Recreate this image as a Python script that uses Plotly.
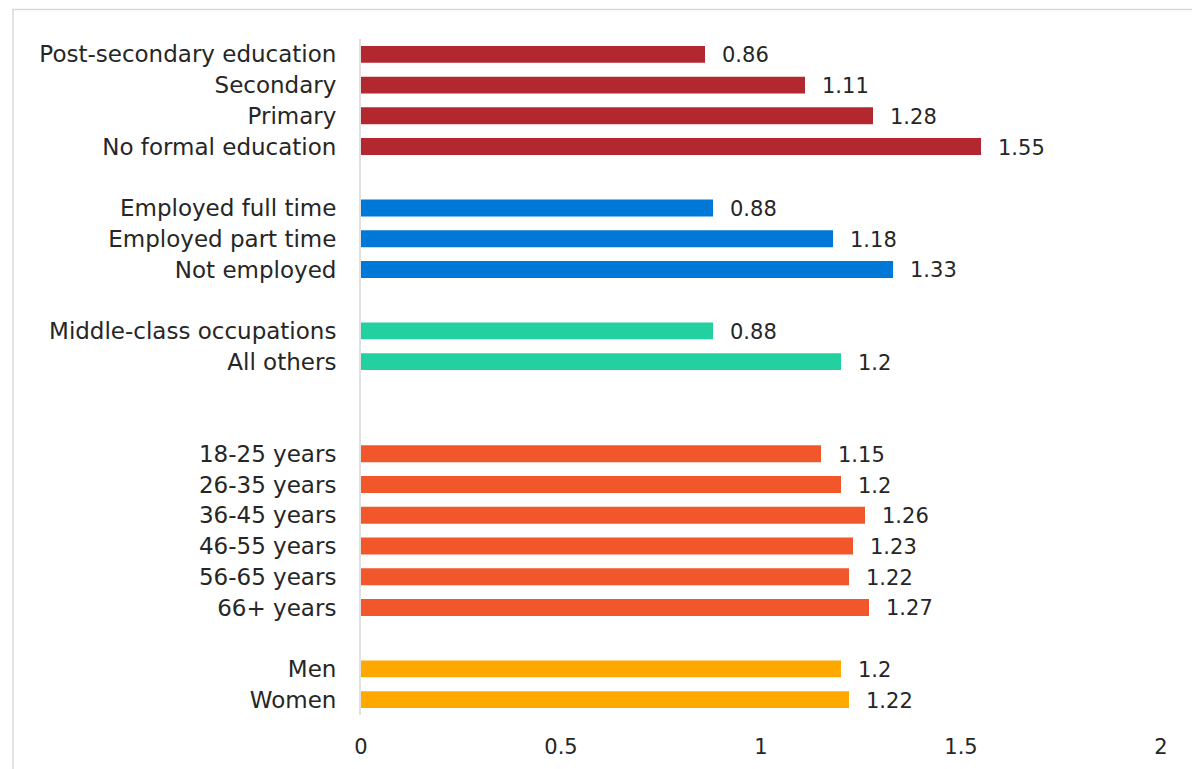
import plotly.graph_objects as go

# Rows from top to bottom; blank entries are spacer rows between groups
categories = [
    "Post-secondary education", "Secondary", "Primary", "No formal education",
    " ",
    "Employed full time", "Employed part time", "Not employed",
    "  ",
    "Middle-class occupations", "All others",
    "   ", "    ",
    "18-25 years", "26-35 years", "36-45 years", "46-55 years", "56-65 years", "66+ years",
    "     ",
    "Men", "Women",
]

education_labels = ["Post-secondary education", "Secondary", "Primary", "No formal education"]
education_values = [0.86, 1.11, 1.28, 1.55]

employment_labels = ["Employed full time", "Employed part time", "Not employed"]
employment_values = [0.88, 1.18, 1.33]

occupation_labels = ["Middle-class occupations", "All others"]
occupation_values = [0.88, 1.2]

age_labels = ["18-25 years", "26-35 years", "36-45 years", "46-55 years", "56-65 years", "66+ years"]
age_values = [1.15, 1.2, 1.26, 1.23, 1.22, 1.27]

gender_labels = ["Men", "Women"]
gender_values = [1.2, 1.22]

x_ticks = [0, 0.5, 1, 1.5, 2]
x_tick_text = ["0", "0.5", "1", "1.5", "2"]

groups = [
    (education_labels, education_values, "#B3282E"),
    (employment_labels, employment_values, "#0078D7"),
    (occupation_labels, occupation_values, "#23D1A0"),
    (age_labels, age_values, "#F2572B"),
    (gender_labels, gender_values, "#FFA800"),
]

FONT = "DejaVu Sans"
LABEL_SIZE = 23
NUM_SIZE = 21
TEXT_COLOR = "#262626"

fig = go.Figure()
annotations = []
for labels, values, color in groups:
    fig.add_trace(go.Bar(
        y=labels, x=values, orientation="h",
        marker=dict(color=color, line=dict(width=0)),
        width=0.55, showlegend=False, hoverinfo="x+y",
    ))
    for lab, val in zip(labels, values):
        annotations.append(dict(
            x=val, y=lab, xref="x", yref="y",
            text=f"{val:g}", showarrow=False,
            xanchor="left", yanchor="middle", xshift=15, yshift=-1,
            font=dict(family=FONT, size=NUM_SIZE, color=TEXT_COLOR),
        ))

# Light outer frame around the chart
shapes = [dict(
    type="rect", xref="paper", yref="paper",
    x0=-0.435, x1=1.2, y0=-0.2, y1=1.0436,
    line=dict(color="#D9D9D9", width=1.5), fillcolor="rgba(0,0,0,0)", layer="below",
)]

fig.update_layout(
    width=1192, height=769,
    margin=dict(l=361, r=31, t=38.5, b=53.5),
    paper_bgcolor="white", plot_bgcolor="white",
    barmode="overlay",
    font=dict(family=FONT, size=LABEL_SIZE, color=TEXT_COLOR),
    annotations=annotations,
    shapes=shapes,
    xaxis=dict(
        range=[0, 2], tickvals=x_ticks, ticktext=x_tick_text,
        showgrid=False, zeroline=False, showline=False,
        ticks="outside", ticklen=13, tickcolor="rgba(0,0,0,0)",
        tickfont=dict(family=FONT, size=NUM_SIZE, color=TEXT_COLOR),
        fixedrange=True, automargin=False,
    ),
    yaxis=dict(
        type="category", categoryorder="array", categoryarray=categories,
        range=[len(categories) - 0.5, -0.5],
        showgrid=False, zeroline=False,
        showline=True, linecolor="#E0E0E0", linewidth=2,
        ticks="outside", ticklen=18, tickcolor="rgba(0,0,0,0)",
        tickfont=dict(family=FONT, size=LABEL_SIZE, color=TEXT_COLOR),
        fixedrange=True, automargin=False,
    ),
)

fig.write_html("out.html")
